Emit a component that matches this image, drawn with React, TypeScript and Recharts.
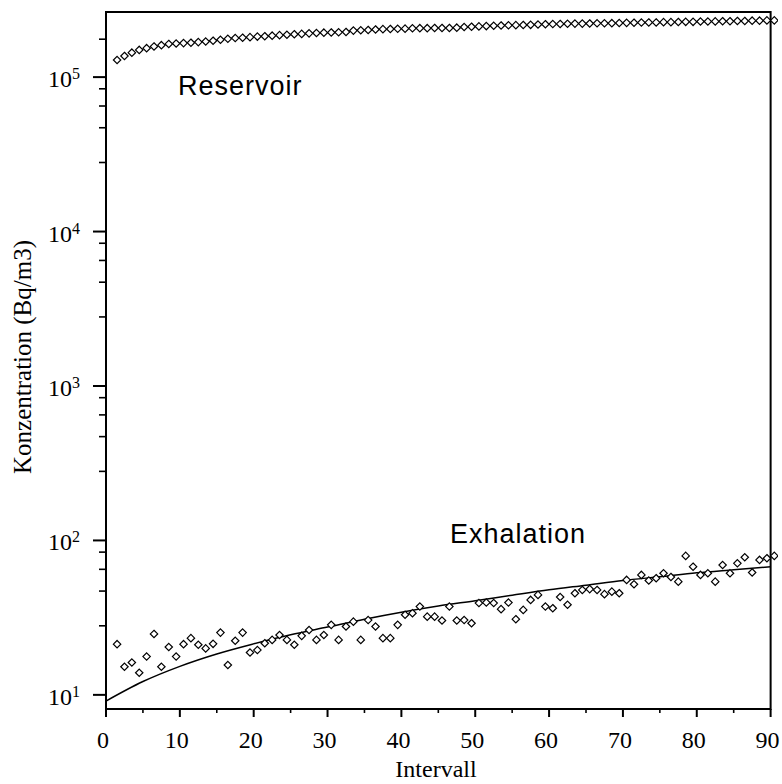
import React from 'react';
import { ComposedChart, Scatter, Line, XAxis, YAxis, ReferenceArea } from 'recharts';

// Interval bin centres (Intervall 1..90)
const INTERVAL_CENTERS = [
  1.5, 2.5, 3.5, 4.5, 5.5, 6.5, 7.5, 8.5, 9.5, 10.5,
  11.5, 12.5, 13.5, 14.5, 15.5, 16.5, 17.5, 18.5, 19.5, 20.5,
  21.5, 22.5, 23.5, 24.5, 25.5, 26.5, 27.5, 28.5, 29.5, 30.5,
  31.5, 32.5, 33.5, 34.5, 35.5, 36.5, 37.5, 38.5, 39.5, 40.5,
  41.5, 42.5, 43.5, 44.5, 45.5, 46.5, 47.5, 48.5, 49.5, 50.5,
  51.5, 52.5, 53.5, 54.5, 55.5, 56.5, 57.5, 58.5, 59.5, 60.5,
  61.5, 62.5, 63.5, 64.5, 65.5, 66.5, 67.5, 68.5, 69.5, 70.5,
  71.5, 72.5, 73.5, 74.5, 75.5, 76.5, 77.5, 78.5, 79.5, 80.5,
  81.5, 82.5, 83.5, 84.5, 85.5, 86.5, 87.5, 88.5, 89.5, 90.5,
];

// Reservoir concentration (Bq/m3)
const RESERVOIR = [
  129000, 137000, 144000, 150000, 154000, 158000, 161000, 164000, 165000, 166000,
  167000, 168500, 170000, 172000, 174500, 177000, 179000, 180000, 181500, 183000,
  184000, 185500, 187000, 188000, 189500, 190500, 192000, 193000, 194000, 194500,
  195000, 196000, 200000, 201000, 202000, 203500, 204500, 205000, 205500, 206000,
  207000, 207500, 207500, 208000, 208000, 208000, 209000, 211000, 212000, 213000,
  214000, 215000, 216000, 216500, 217000, 217500, 218000, 219000, 220000, 220500,
  221000, 221500, 222000, 222000, 222500, 223000, 223000, 223500, 224000, 224500,
  225000, 225500, 226000, 226000, 227000, 227000, 227500, 228000, 228000, 229000,
  229000, 229500, 230000, 230000, 231000, 231000, 232000, 232000, 233000, 233000,
];

// Exhalation concentration (Bq/m3)
const EXHALATION = [
  21.3, 15.2, 16.2, 13.9, 17.7, 24.8, 15.2, 20.4, 17.7, 21.3,
  23.3, 21.1, 20.0, 21.4, 25.3, 15.6, 22.4, 25.3, 18.8, 19.5,
  21.6, 22.7, 24.4, 22.7, 21.1, 24.1, 26.3, 22.7, 24.4, 28.4,
  22.7, 27.7, 29.8, 22.7, 30.5, 27.7, 23.3, 23.3, 28.4, 33.0,
  33.8, 37.3, 32.1, 32.1, 30.3, 37.3, 30.3, 30.5, 29.1, 39.3,
  39.6, 39.3, 35.9, 39.6, 30.9, 35.5, 41.2, 44.4, 37.3, 36.4,
  43.0, 38.3, 45.5, 47.8, 48.4, 47.8, 44.9, 46.6, 45.5, 55.5,
  52.0, 59.8, 55.0, 56.9, 61.3, 58.0, 54.1, 79.4, 67.6, 59.8,
  61.3, 54.1, 69.3, 61.3, 71.1, 77.8, 62.0, 74.8, 76.7, 79.4,
];

// Fitted exhalation curve
const FIT_X = [0, 5, 10, 15, 20, 25, 30, 35, 40, 45, 50, 55, 60, 65, 70, 75, 80, 85, 90];
const FIT_Y = [9.12, 12.2, 15.3, 18.4, 21.4, 24.5, 27.5, 30.9, 34.3, 37.6, 40.7, 44.2, 47.9, 51.3, 55.0, 58.2, 61.7, 64.6, 67.6];

const X_TICKS = [0, 5, 10, 15, 20, 25, 30, 35, 40, 45, 50, 55, 60, 65, 70, 75, 80, 85, 90];
const Y_MAJOR_TICKS = [10, 100, 1000, 10000, 100000];
const Y_MINOR_TICKS = [
  28, 47, 65, 84,
  280, 470, 650, 840,
  2800, 4700, 6500, 8400,
  28000, 47000, 65000, 84000,
  176000,
];
const Y_DOMAIN: [number, number] = [8.1, 264000];
const X_DOMAIN: [number, number] = [0, 91];
const FRAME_X_MAX = 90;

const reservoirData = INTERVAL_CENTERS.map((x, i) => ({ x, y: RESERVOIR[i] }));
const exhalationData = INTERVAL_CENTERS.map((x, i) => ({ x, y: EXHALATION[i] }));
const fitData = FIT_X.map((x, i) => ({ x, y: FIT_Y[i] }));
const yTicks = [...Y_MAJOR_TICKS, ...Y_MINOR_TICKS].sort((a, b) => a - b);

const SERIF = '"Liberation Serif", "DejaVu Serif", serif';
const SANS = '"Liberation Sans", Arial, sans-serif';

const Diamond = (props: any) => {
  const { cx, cy } = props;
  if (cx == null || cy == null) return null;
  const r = 3.7;
  return (
    <polygon
      points={`${cx},${cy - r} ${cx + r},${cy} ${cx},${cy + r} ${cx - r},${cy}`}
      fill="#fff"
      stroke="#000"
      strokeWidth={1.2}
    />
  );
};

// YAxis tickSize 0, tickMargin 0 -> tick x is the axis line position
const renderYTick = (props: any) => {
  const { x, y, payload } = props;
  const v = payload.value as number;
  const lg = Math.log10(v);
  const exp = Math.round(lg);
  const major = Math.abs(lg - exp) < 1e-6;
  return (
    <g key={`yt-${v}`}>
      <line x1={x - (major ? 13 : 7)} x2={x} y1={y} y2={y} stroke="#000" strokeWidth={major ? 2 : 1.6} />
      {major && (
        <text x={x - 26} y={y + 10} textAnchor="end" fontFamily={SERIF} fontSize={24} fill="#000">
          10
          <tspan fontSize={16} dy={-8}>{exp}</tspan>
        </text>
      )}
    </g>
  );
};

const renderXTick = (props: any) => {
  const { x, y, payload } = props;
  const v = payload.value as number;
  const major = v % 10 === 0;
  return (
    <g key={`xt-${v}`}>
      <line x1={x} x2={x} y1={y} y2={y + (major ? 8 : 4)} stroke="#000" strokeWidth={major ? 2 : 1.6} />
      {major && (
        <text x={x - 3} y={y + 39} textAnchor="middle" fontFamily={SERIF} fontSize={24} fill="#000">
          {v}
        </text>
      )}
    </g>
  );
};

export default function App() {
  return (
    <div style={{ position: 'absolute', left: 0, top: 0, width: 782, height: 784, background: '#fff' }}>
      <ComposedChart
        width={782}
        height={784}
        margin={{ top: 12, right: 4, bottom: 25, left: 46 }}
      >
        <XAxis
          dataKey="x"
          type="number"
          domain={X_DOMAIN}
          allowDataOverflow
          ticks={X_TICKS}
          interval={0}
          height={50}
          tickSize={0}
          tickMargin={0}
          axisLine={false}
          tickLine={false}
          tick={renderXTick}
        />
        <YAxis
          dataKey="y"
          type="number"
          scale="log"
          domain={Y_DOMAIN}
          allowDataOverflow
          ticks={yTicks}
          interval={0}
          width={60}
          tickSize={0}
          tickMargin={0}
          axisLine={false}
          tickLine={false}
          tick={renderYTick}
        />
        <ReferenceArea
          x1={X_DOMAIN[0]}
          x2={FRAME_X_MAX}
          y1={Y_DOMAIN[0]}
          y2={Y_DOMAIN[1]}
          fill="none"
          fillOpacity={0}
          stroke="#000"
          strokeWidth={2}
          ifOverflow="visible"
        />
        <Line
          data={fitData}
          dataKey="y"
          type="monotone"
          stroke="#000"
          strokeWidth={1.5}
          dot={false}
          activeDot={false}
          isAnimationActive={false}
        />
        <Scatter data={reservoirData} dataKey="y" shape={<Diamond />} isAnimationActive={false} />
        <Scatter data={exhalationData} dataKey="y" shape={<Diamond />} isAnimationActive={false} />
      </ComposedChart>
      <svg
        width={782}
        height={784}
        style={{ position: 'absolute', left: 0, top: 0, pointerEvents: 'none' }}
      >
        <text x={178} y={95} fontFamily={SANS} fontSize={27} letterSpacing={1} fill="#000">Reservoir</text>
        <text x={450} y={543} fontFamily={SANS} fontSize={27} letterSpacing={1} fill="#000">Exhalation</text>
        <text x={436} y={777} textAnchor="middle" fontFamily={SERIF} fontSize={24} fill="#000">Intervall</text>
        <text
          x={31}
          y={357}
          textAnchor="middle"
          fontFamily={SERIF}
          fontSize={25}
          fill="#000"
          transform="rotate(-90, 31, 357)"
        >
          Konzentration (Bq/m3)
        </text>
      </svg>
    </div>
  );
}
